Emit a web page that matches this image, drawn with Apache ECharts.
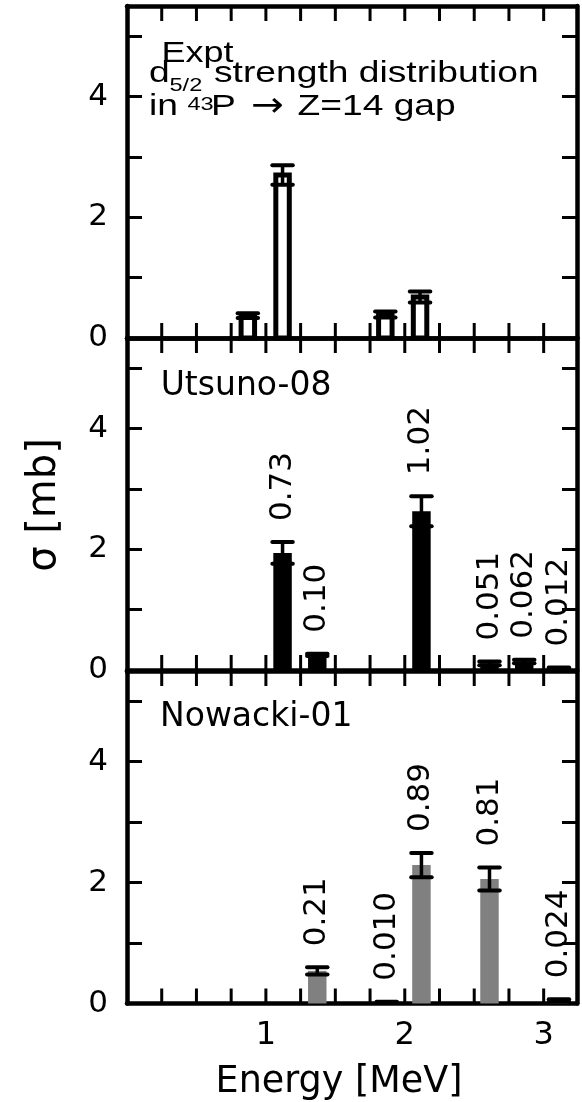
<!DOCTYPE html>
<html>
<head>
<meta charset="utf-8">
<script src="https://cdn.jsdelivr.net/npm/echarts@6/dist/echarts.min.js"></script>
<style>
  html, body { margin: 0; padding: 0; background: #fff; }
  #chart { width: 582px; height: 1102px; }
</style>
</head>
<body>
<div id="chart"></div>
<script>
// Energies in MeV, cross sections and their errors in mb.
// Spectroscopic factors are printed above the calculated strengths.
const exptEnergy = [0.87, 1.12, 1.86, 2.11];
const exptSigma  = [0.37, 2.70, 0.39, 0.68];
const exptErr    = [0.04, 0.16, 0.05, 0.09];

const utsunoEnergy = [1.12, 1.37, 2.12, 2.61, 2.86, 3.11];
const utsunoSigma  = [1.94, 0.25, 2.63, 0.11, 0.14, 0.03];
const utsunoErr    = [0.18, 0.02, 0.25, 0.03, 0.03, 0.01];
const utsunoSF     = ['0.73', '0.10', '1.02', '0.051', '0.062', '0.012'];

const nowackiEnergy = [1.37, 1.87, 2.12, 2.61, 3.11];
const nowackiSigma  = [0.54, 0.02, 2.29, 2.06, 0.05];
const nowackiErr    = [0.06, 0.01, 0.20, 0.19, 0.02];
const nowackiSF     = ['0.21', '0.010', '0.89', '0.81', '0.024'];

const xTickValues  = [0.25, 0.5, 0.75, 1, 1.25, 1.5, 1.75, 2, 2.25, 2.5, 2.75, 3];
const xLabelValues = [1, 2, 3];
const yTickValues  = [1, 2, 3, 4, 5];
const yLabelValues = [0, 2, 4];

const X_MAX = 3.24;
const Y_MAX = 5.5;
const BAR_W = 0.133;           // bar width in MeV
const TICK_LEN = 15;
const TICK_W = 3;
const SANS = '"DejaVu Sans"';
const ARIAL = '"Liberation Sans"';

const panels = [
  { energy: exptEnergy,    sigma: exptSigma,    err: exptErr,    sf: null,       kind: 'open'  },
  { energy: utsunoEnergy,  sigma: utsunoSigma,  err: utsunoErr,  sf: utsunoSF,   kind: 'solid' },
  { energy: nowackiEnergy, sigma: nowackiSigma, err: nowackiErr, sf: nowackiSF,  kind: 'gray'  }
];

const gridBoxes = [
  { top: 6,   height: 332 },
  { top: 338, height: 332 },
  { top: 671, height: 332.5 }
];

function xAxisCfg(gridIndex, position, showLabels) {
  return {
    type: 'value', gridIndex, position, min: 0, max: X_MAX, interval: 0.25,
    axisLine: { show: true, onZero: false, lineStyle: { color: '#000', width: 4.5 } },
    // energy ticks are drawn together with the bars (see frameTicks)
    axisTick: { show: false },
    axisLabel: {
      show: showLabels, margin: 16, color: '#000',
      fontFamily: SANS, fontSize: 32,
      customValues: xLabelValues,
      formatter: v => String(v)
    },
    splitLine: { show: false }
  };
}

function yAxisCfg(gridIndex, position, showLabels) {
  return {
    type: 'value', gridIndex, position, min: 0, max: Y_MAX, interval: 1,
    axisLine: { show: true, onZero: false, lineStyle: { color: '#000', width: 4.5 } },
    axisTick: { show: true, inside: true, length: TICK_LEN, lineStyle: { color: '#000', width: 3 }, customValues: yTickValues },
    axisLabel: {
      show: showLabels, margin: 19, color: '#000',
      fontFamily: SANS, fontSize: 31,
      customValues: yLabelValues,
      formatter: v => String(v)
    },
    splitLine: { show: false }
  };
}

// Inward energy ticks along the bottom and top edge of a panel, as thin filled bars
function frameTicks(api) {
  const out = [];
  xTickValues.forEach(v => {
    const b = api.coord([v, 0]);
    const t = api.coord([v, Y_MAX]);
    out.push({ type: 'rect', shape: { x: b[0] - TICK_W / 2, y: b[1] - TICK_LEN, width: TICK_W, height: TICK_LEN }, style: { fill: '#000' } });
    out.push({ type: 'rect', shape: { x: t[0] - TICK_W / 2, y: t[1], width: TICK_W, height: TICK_LEN }, style: { fill: '#000' } });
  });
  return out;
}

// Bar + error bar (+ optional rotated spectroscopic-factor label) for one level
function makeRenderItem(panel) {
  return function (params, api) {
    const e = api.value(0), s = api.value(1), err = api.value(2);
    const base = api.coord([e, 0]);
    const top = api.coord([e, s]);
    const half = api.size([BAR_W, 0])[0] / 2;
    const children = [];

    if (panel.kind === 'open') {
      const lw = 5;
      children.push({
        type: 'rect',
        shape: { x: base[0] - half + lw / 2, y: top[1], width: 2 * half - lw, height: base[1] - top[1] },
        style: { fill: '#fff', stroke: '#000', lineWidth: lw }
      });
    } else {
      children.push({
        type: 'rect',
        shape: { x: base[0] - half, y: top[1], width: 2 * half, height: base[1] - top[1] },
        style: { fill: panel.kind === 'solid' ? '#000' : '#808080' }
      });
    }

    const hi = api.coord([e, s + err]);
    const lo = api.coord([e, Math.max(s - err, 0)]);
    const capHalf = half + 1;
    children.push({
      type: 'rect',
      shape: { x: hi[0] - 1.75, y: hi[1], width: 3.5, height: lo[1] - hi[1] },
      style: { fill: '#000' }
    });
    [hi, lo].forEach(p => children.push({
      type: 'line',
      shape: { x1: p[0] - capHalf, y1: p[1], x2: p[0] + capHalf, y2: p[1] },
      style: { stroke: '#000', lineWidth: 4, lineCap: 'round' }
    }));

    if (panel.sf) {
      children.push({
        type: 'text',
        x: hi[0], y: hi[1] - 21, rotation: Math.PI / 2,
        style: {
          text: panel.sf[params.dataIndex],
          font: '31px ' + SANS, fill: '#000',
          align: 'left', verticalAlign: 'middle',
          textAlign: 'left', textVerticalAlign: 'middle'
        }
      });
    }

    if (params.dataIndex === 0) {
      frameTicks(api).forEach(t => children.push(t));
    }
    return { type: 'group', children };
  };
}

const grids = gridBoxes.map(b => ({ left: 127, right: 5, top: b.top, height: b.height }));

const xAxes = [], yAxes = [];
gridBoxes.forEach((b, i) => {
  xAxes.push(xAxisCfg(i, 'bottom', i === 2));
  xAxes.push(xAxisCfg(i, 'top', false));
  yAxes.push(yAxisCfg(i, 'left', true));
  yAxes.push(yAxisCfg(i, 'right', false));
});

const series = panels.map((p, i) => ({
  type: 'custom',
  xAxisIndex: 2 * i,
  yAxisIndex: 2 * i,
  clip: false,
  data: p.energy.map((e, k) => [e, p.sigma[k], p.err[k]]),
  renderItem: makeRenderItem(p)
}));

function txt(x, y, text, font, extra) {
  return Object.assign({
    type: 'text', x, y, z: 10,
    style: {
      text, font, fill: '#000',
      align: 'left', verticalAlign: 'middle',
      textAlign: 'left', textVerticalAlign: 'middle'
    }
  }, extra || {});
}

const SX = 1.24;   // the panel caption is set in a wide sans face
const graphic = [
  txt(161.5, 53.5,  'Expt',                  '30px ' + ARIAL, { scaleX: 1.2 }),
  txt(149,   73.4,  'd',                     '30px ' + ARIAL, { scaleX: SX }),
  txt(169.5, 86.1,  '5/2',                   '19px ' + ARIAL, { scaleX: SX }),
  txt(214,   73.4,  'strength distribution', '30px ' + ARIAL, { scaleX: SX }),
  txt(149,   106.7, 'in',                    '30px ' + ARIAL, { scaleX: SX }),
  txt(187.5, 104.8, '43',                    '19px ' + ARIAL, { scaleX: SX }),
  txt(211,   106.7, 'P',                     '30px ' + ARIAL, { scaleX: SX }),
  txt(251,   106.7, '\u2192',                '34px ' + SANS,  { scaleX: 1.15 }),
  txt(297.5, 106.7, 'Z=14 gap',              '30px ' + ARIAL, { scaleX: SX }),
  txt(160.7, 386.9, 'Utsuno-08',             '33px ' + SANS),
  txt(160,   717.5, 'Nowacki-01',            '33px ' + SANS),
  {
    type: 'text', x: 44.8, y: 505, rotation: Math.PI / 2, z: 10,
    style: {
      text: '\u03c3 [mb]', font: '40px ' + SANS, fill: '#000',
      align: 'center', verticalAlign: 'middle',
      textAlign: 'center', textVerticalAlign: 'middle'
    }
  },
  {
    type: 'text', x: 339, y: 1082.5, z: 10,
    style: {
      text: 'Energy [MeV]', font: '36.5px ' + SANS, fill: '#000',
      align: 'center', verticalAlign: 'middle',
      textAlign: 'center', textVerticalAlign: 'middle'
    }
  }
];

const chart = echarts.init(document.getElementById('chart'), null, { renderer: 'canvas' });
chart.setOption({
  animation: false,
  backgroundColor: '#fff',
  grid: grids,
  xAxis: xAxes,
  yAxis: yAxes,
  series,
  graphic
});
</script>
</body>
</html>
